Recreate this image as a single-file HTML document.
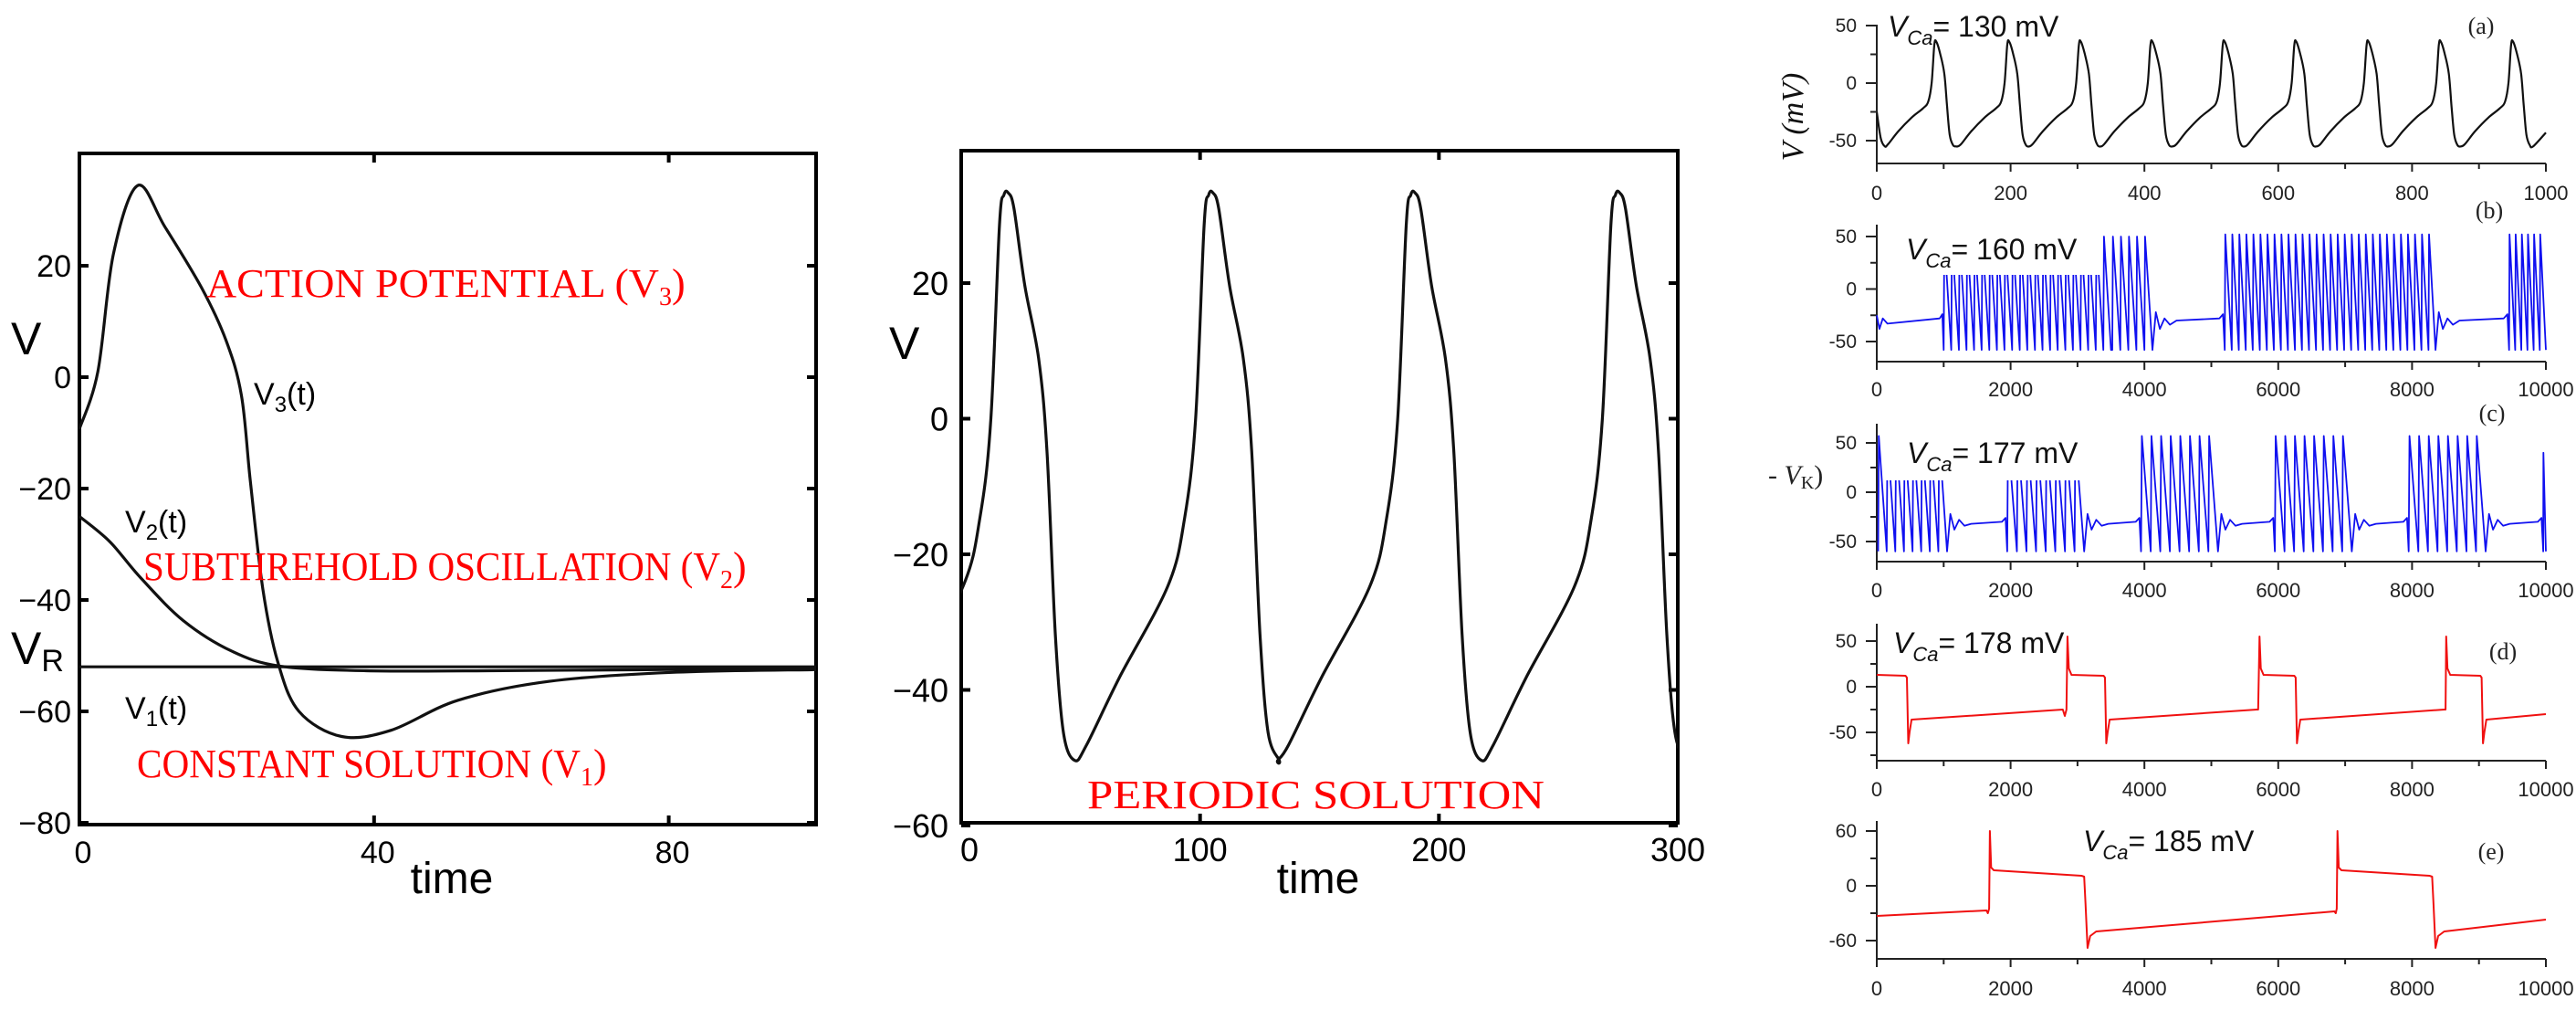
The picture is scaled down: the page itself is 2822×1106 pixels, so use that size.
<!DOCTYPE html>
<html><head><meta charset="utf-8"><title>Membrane potential figures</title>
<style>
html,body{margin:0;padding:0;background:#fff;}
svg{display:block;}
.sans{font-family:"Liberation Sans",sans-serif;}
.narrow{font-family:"Liberation Sans Narrow","Liberation Sans",sans-serif;}
.serif{font-family:"Liberation Serif",serif;}
</style></head>
<body>
<svg id="fig" xmlns="http://www.w3.org/2000/svg" width="2822" height="1106" viewBox="0 0 2822 1106">
<defs>
<clipPath id="clipMid"><rect x="1053" y="165" width="785" height="736"/></clipPath>
<clipPath id="clipA"><rect x="2056" y="0" width="734" height="179"/></clipPath>
</defs>
</svg>
<script>
// ===== Left panel data =====
const leftV3T=[0,2.5,4.6,7.9,11.6,16.6,19.9,22,23.2,24.9,26.9,29.8,35.6,42.3,51.4,63.8,80.4,100];
const leftV3V=[-9.3,1,22,34.4,27,16,6.6,-3.3,-18.6,-38,-51,-60,-64.5,-63.4,-58,-54.6,-53,-52.5];
const leftV2T=[0,4.1,8.3,14.1,20.7,27.3,38.9,55.5,100];
const leftV2V=[-25,-29.5,-36,-43.7,-49.2,-51.9,-52.7,-52.7,-52.3];
const leftV1T=[0,100];
const leftV1V=[-52,-52];
const leftYTicks=[20,0,-20,-40,-60,-80];
const leftXTicks=[0,40,80];
// ===== Middle panel data =====
const midPeakT=[18.5,104.2,188.8,274.5];
const midShapeDt=[-56.3,-51.7,-38,-17.6,-10.7,-6.1,-2.5,-0.6,1.2,3.6,8.1,13.9,17.4,20.9,24.3,29];
const midShapeV=[-50.4,-48.1,-38.2,-24.6,-14.7,-0.2,28.5,33,33.3,31,19.7,8.9,-4.7,-31.8,-46.3,-50.4];
const midYTicks=[20,0,-20,-40,-60];
const midXTicks=[0,100,200,300];
// ===== Panel (a) =====
const aPeakT=[87,196,303,410,518,625,733,841,949];
const aShapeDt=[-75,-70,-55,-35,-18,-10,-5,-1,2,8,14,18,22,27,32];
const aShapeV=[-55,-53,-42,-30,-22,-16,0,33,36,25,8,-20,-45,-54,-55];
const aStartT=[0,6];
const aStartV=[-25,-48];
// ===== Panel (b) bursts =====
const bStart=[1000,3520,5200,9450];
const bEnd=[3500,4120,8350,10000];
const bCount=[22,5,30,6];
const bPeak=[50,50,52,52];
const bTrough=-58;
const bRest=-28;
// ===== Panel (c) bursts =====
const cStart=[20,1950,3950,5950,7950,9960];
const cEnd=[1050,3100,5100,7100,9100,10000];
const cCount=[8,8,8,8,8,1];
const cPeak=[57,57,57,57,57,40];
const cTrough=-60;
const cRest=-30;
// ===== Panel (d) =====
const dT=[0,430,450,470,490,520,2780,2810,2835,2850,2870,2910,3390,3410,3430,3450,3480,5680,5700,5720,5740,5780,6240,6260,6280,6300,6330,8480,8500,8510,8530,8570,9020,9040,9060,9080,9110,10000];
const dV=[13,12,10,-62,-50,-36,-25,-32,-25,55,20,13,12,10,-62,-50,-36,-25,-25,55,20,13,12,10,-62,-50,-36,-25,-25,55,20,13,12,10,-62,-50,-36,-30];
// ===== Panel (e) =====
const eT=[0,1640,1660,1680,1690,1710,1750,3060,3100,3120,3150,3190,3280,6840,6860,6875,6885,6905,6945,8260,8300,8320,8350,8390,8480,10000];
const eV=[-33,-27,-30,-25,60,20,17,11,10,-20,-68,-55,-50,-28,-30,-25,60,20,17,11,10,-20,-68,-55,-50,-37];
const rYTicksA=[50,0,-50], rYTicksD=[50,0,-50], rYTicksE=[60,0,-60];
const rXTicksA=[0,200,400,600,800,1000];
const rXTicksB=[0,2000,4000,6000,8000,10000];

const NS='http://www.w3.org/2000/svg';
const svg=document.getElementById('fig');
function mk(tag,attrs,parent){const e=document.createElementNS(NS,tag);for(const k in attrs)e.setAttribute(k,attrs[k]);(parent||svg).appendChild(e);return e;}
function lin(d0,d1,r0,r1){return v=>r0+(v-d0)*(r1-r0)/(d1-d0);}
function smooth(pts){let d='M'+pts[0][0].toFixed(1)+','+pts[0][1].toFixed(1);
 for(let i=0;i<pts.length-1;i++){const p0=pts[Math.max(0,i-1)],p1=pts[i],p2=pts[i+1],p3=pts[Math.min(pts.length-1,i+2)];
  const c1=[p1[0]+(p2[0]-p0[0])/6,p1[1]+(p2[1]-p0[1])/6],c2=[p2[0]-(p3[0]-p1[0])/6,p2[1]-(p3[1]-p1[1])/6];
  d+=' C'+c1[0].toFixed(1)+','+c1[1].toFixed(1)+' '+c2[0].toFixed(1)+','+c2[1].toFixed(1)+' '+p2[0].toFixed(1)+','+p2[1].toFixed(1);}
 return d;}
function poly(pts){return 'M'+pts.map(p=>p[0].toFixed(1)+','+p[1].toFixed(1)).join(' L');}
function txt(x,y,s,cls,size,anchor,fill,parent){const t=mk('text',{x:x,y:y,class:cls,'font-size':size,'text-anchor':anchor||'start',fill:fill||'#000'},parent);t.textContent=s;return t;}

// ================= LEFT PANEL =================
const lx=lin(0,100,87,894), ly=lin(20,-20,291,535);
let el=mk('rect',{x:87,y:168,width:807,height:735,fill:'none',stroke:'#000','stroke-width':4});


leftYTicks.forEach(v=>{
 let t=mk('path',{d:`M87,${ly(v)} h10 M894,${ly(v)} h-10`,stroke:'#000','stroke-width':4});
 
 
 let l=txt(78,ly(v)+12,v<0?'\u2212'+(-v):String(v),'sans',34,'end');
 
 
});
leftXTicks.forEach(v=>{
 let t=mk('path',{d:`M${lx(v)},903 v-10 M${lx(v)},168 v10`,stroke:'#000','stroke-width':4});
 
 
 let l=txt(lx(v)+4,945,String(v),'sans',34,'middle');
 
 
});
el=txt(495,978,'time','sans',48,'middle');


el=txt(12,388,'V','sans',50);


el=mk('text',{x:12,y:727,class:'sans','font-size':50});
el.innerHTML='V<tspan font-size="34" dy="8">R</tspan>';


[[leftV1T,leftV1V,'v1-line'],[leftV2T,leftV2V,'v2-line'],[leftV3T,leftV3V,'v3-line']].forEach(([T,V,n])=>{
 const pts=T.map((t,i)=>[lx(t),ly(V[i])]);
 let p=mk('path',{d:smooth(pts),fill:'none',stroke:'#111','stroke-width':3.2});
 
 
});
function subLabel(x,y,main,sub,rest){const t=mk('text',{x:x,y:y,class:'sans','font-size':34});
 t.innerHTML=main+'<tspan font-size="24" dy="8">'+sub+'</tspan><tspan dy="-8">'+rest+'</tspan>';return t;}
el=subLabel(278,443,'V','3','(t)');


el=subLabel(137,583,'V','2','(t)');


el=subLabel(137,787,'V','1','(t)');


function redLabel(x,y,main,sub,w){const g=mk('g',{});
 const t=mk('text',{x:x,y:y,class:'serif','font-size':44,fill:'#f00',textLength:w-40,lengthAdjust:'spacingAndGlyphs'},g);
 t.textContent=main;
 const s=mk('text',{x:x+w-40,y:y,class:'serif','font-size':44,fill:'#f00'},g);
 s.innerHTML='<tspan font-size="28" dy="9">'+sub+'</tspan><tspan dy="-9">)</tspan>';
 return g;}
el=redLabel(226,325,'ACTION POTENTIAL (V','3',536);


el=redLabel(157,635,'SUBTHREHOLD OSCILLATION (V','2',672);


el=redLabel(150,851,'CONSTANT SOLUTION (V','1',526);



// ================= MIDDLE PANEL =================
const mx=lin(0,300,1053,1838), my=lin(20,-20,310,607);
el=mk('rect',{x:1053,y:165,width:785,height:736,fill:'none',stroke:'#000','stroke-width':4});


midYTicks.forEach(v=>{
 let t=mk('path',{d:`M1053,${my(v)} h10 M1838,${my(v)} h-10`,stroke:'#000','stroke-width':4});
 
 
 let l=txt(1039,my(v)+13,v<0?'\u2212'+(-v):String(v),'sans',36,'end');
 
 
});
midXTicks.forEach(v=>{
 let t=mk('path',{d:`M${mx(v)},901 v-10 M${mx(v)},165 v10`,stroke:'#000','stroke-width':4});
 
 
 let l=txt(mx(v)+(v===0?9:0),943,String(v),'sans',36,'middle');
 
 
});
el=txt(1444,978,'time','sans',48,'middle');


el=txt(974,393,'V','sans',50);


{const pts=[];midPeakT.forEach(tp=>midShapeDt.forEach((dt,i)=>{if(pts.length&&Math.abs(pts[pts.length-1][2]-(tp+dt))<0.5)return;pts.push([mx(tp+dt),my(midShapeV[i]),tp+dt]);}));
 let p=mk('path',{d:smooth(pts),fill:'none',stroke:'#111','stroke-width':3.2,'clip-path':'url(#clipMid)'});
 
 }
el=mk('text',{x:1191,y:885,class:'serif','font-size':44,fill:'#f00',textLength:501,lengthAdjust:'spacingAndGlyphs'});
el.textContent='PERIODIC SOLUTION';



// ================= RIGHT PANELS =================
const rx0=2056, rx1=2789;
function rightAxes(name,top,bottom,yMap,yMajor,yStep,xTicks,xMax,labelY){
 const xm=lin(0,xMax,rx0,rx1);
 let a=mk('path',{d:`M${rx0},${top} V${bottom} H${rx1}`,fill:'none',stroke:'#222','stroke-width':2});
 
 
 const lo=Math.min(...yMajor)-yStep*2, hi=Math.max(...yMajor)+yStep;
 for(let v=lo;v<=hi;v+=yStep){const y=yMap(v);if(y<top-1||y>bottom-3)continue;
  const major=yMajor.includes(v);
  let t=mk('path',{d:`M${rx0},${y} h${major?-12:-7}`,stroke:'#222','stroke-width':2});
  
  
  if(major){let l=txt(2034,y+7,String(v),'narrow',21,'end','#222');
   
   }}
 const step=xTicks[1]-xTicks[0];
 for(let v=0;v<=xMax;v+=step/2){const major=xTicks.includes(v);
  let t=mk('path',{d:`M${xm(v)},${bottom} v${major?9:6}`,stroke:'#222','stroke-width':2});
  
  
  if(major){let l=txt(xm(v),labelY,String(v),'narrow',22,'middle','#222');
   
   }}
 return xm;}
function vcaLabel(x,y,val){const t=mk('text',{x:x,y:y,class:'narrow','font-size':32,fill:'#111'});
 t.innerHTML='<tspan font-style="italic">V</tspan><tspan font-style="italic" font-size="22" dy="9">Ca</tspan><tspan dy="-9">= '+val+' mV</tspan>';return t;}
function panelTag(x,y,s){return txt(x,y,s,'serif',26,'middle','#222');}
function burstPts(starts,ends,counts,peaks,trough,rest,xm,ym){
 const pts=[];let prevEnd=0;
 starts.forEach((s,i)=>{
  if(i===0&&s>100){pts.push([0,-25],[40,-38],[90,-28],[160,-33],[s-60,rest],[s-20,rest+4]);}
  else if(s-prevEnd>300){pts.push([prevEnd+50,-22],[prevEnd+110,-38],[prevEnd+180,-28],[prevEnd+260,-34],[prevEnd+360,rest-2],[s-80,rest],[s-25,rest+4]);}
  const p=(ends[i]-s)/counts[i];
  for(let k=0;k<counts[i];k++){const ts=s+k*p;pts.push([ts,trough],[ts+0.08*p,peaks[i]],[Math.min(ts+p,10000),trough]);}
  prevEnd=ends[i];});
 return pts.map(q=>[xm(q[0]),ym(q[1])]);}

// (a)
const yA=lin(50,-50,28,154);
let xA=rightAxes('panel-a',27,179,yA,rYTicksA,25,rXTicksA,1000,219);
{const pts=aStartT.map((t,i)=>[xA(t),yA(aStartV[i])]);
 aPeakT.forEach(tp=>aShapeDt.forEach((dt,i)=>{const t=tp+dt;if(t<8)return;const last=pts[pts.length-1];if(Math.abs(last[0]-xA(t))<1)return;pts.push([xA(t),yA(aShapeV[i])]);}));
 pts.push([xA(1000),yA(-43)]);
 let p=mk('path',{d:smooth(pts),fill:'none',stroke:'#111','stroke-width':2.2,'clip-path':'url(#clipA)'});
 
 }
el=vcaLabel(2068,40,'130');


el=panelTag(2718,37,'(a)');


el=mk('text',{x:0,y:0,class:'serif','font-size':34,'font-style':'italic',fill:'#111',transform:'translate(1975,128) rotate(-90)','text-anchor':'middle'});
el.textContent='V (mV)';



// (b)
const yB=lin(50,-50,259,374);
let xB=rightAxes('panel-b',246,396,yB,rYTicksA,25,rXTicksB,10000,434);
{let p=mk('path',{d:poly(burstPts(bStart,bEnd,bCount,bPeak,bTrough,bRest,xB,yB)),fill:'none',stroke:'#1010f0','stroke-width':1.8,'stroke-linejoin':'round'});
 
 }
el=mk('rect',{x:2060,y:238,width:243,height:63,fill:'#fff'});


el=vcaLabel(2088,284,'160');


el=panelTag(2727,239,'(b)');



// (c)
const yC=lin(50,-50,485,593);
let xC=rightAxes('panel-c',464,615,yC,rYTicksA,25,rXTicksB,10000,654);
{let p=mk('path',{d:poly(burstPts(cStart,cEnd,cCount,cPeak,cTrough,cRest,xC,yC)),fill:'none',stroke:'#1010f0','stroke-width':1.8,'stroke-linejoin':'round'});
 
 }
el=mk('rect',{x:2066,y:462,width:222,height:64,fill:'#fff'});


el=vcaLabel(2089,507,'177');


el=panelTag(2730,461,'(c)');


el=mk('text',{x:1937,y:530,class:'serif','font-size':30,fill:'#222'});
el.innerHTML='- <tspan font-style="italic">V</tspan><tspan font-size="20" dy="5">K</tspan><tspan dy="-5">)</tspan>';



// (d)
const yD=lin(50,-50,702,802);
let xD=rightAxes('panel-d',683,833,yD,rYTicksD,25,rXTicksB,10000,872);
{let p=mk('path',{d:poly(dT.map((t,i)=>[xD(t),yD(dV[i])])),fill:'none',stroke:'#f01010','stroke-width':2,'stroke-linejoin':'round'});
 
 }
el=vcaLabel(2074,715,'178');


el=panelTag(2742,722,'(d)');



// (e)
const yE=lin(60,-60,910,1030);
let xE=rightAxes('panel-e',899,1050,yE,rYTicksE,30,rXTicksB,10000,1090);
{let p=mk('path',{d:poly(eT.map((t,i)=>[xE(t),yE(eV[i])])),fill:'none',stroke:'#f01010','stroke-width':2,'stroke-linejoin':'round'});
 
 }
el=vcaLabel(2282,932,'185');


el=panelTag(2729,941,'(e)');


</script>
</body></html>
